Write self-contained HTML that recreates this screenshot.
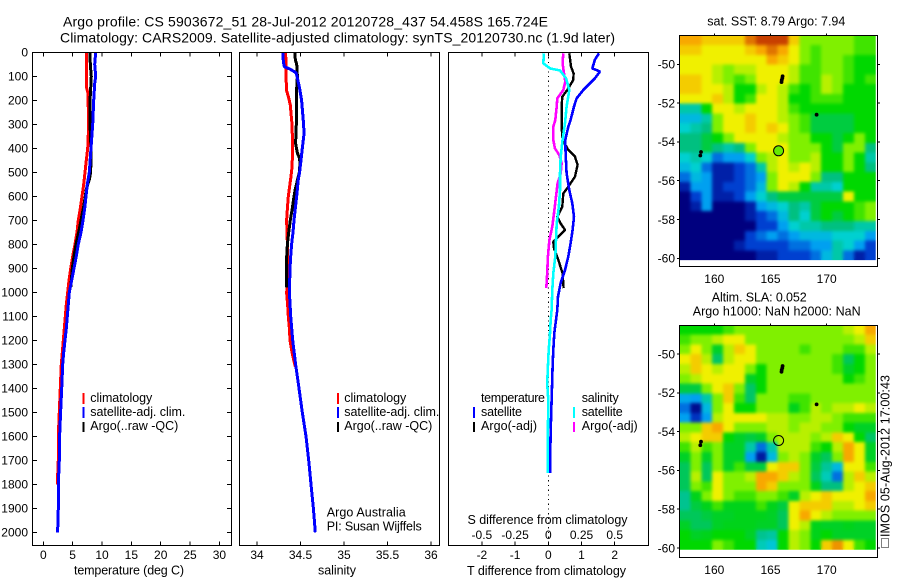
<!DOCTYPE html>
<html lang="en">
<head>
<meta charset="utf-8">
<title>Argo profile CS 5903672_51</title>
<style>
html,body{margin:0;padding:0;background:#fff;width:900px;height:580px;overflow:hidden}
svg{display:block}
text{font-family:"Liberation Sans",sans-serif;font-size:12px;fill:#000}
.title{font-size:14px}
.lab{font-size:12.5px}
</style>
</head>
<body>
<svg id="chart" xmlns="http://www.w3.org/2000/svg" width="900" height="580" viewBox="0 0 900 580">
<defs>
<filter id="smooth" filterUnits="userSpaceOnUse" x="660" y="20" width="240" height="550" color-interpolation-filters="sRGB">
<feGaussianBlur in="SourceGraphic" stdDeviation="1.7" result="b"/>
<feMerge><feMergeNode in="SourceGraphic"/><feMergeNode in="b"/></feMerge>
</filter>
</defs>
<rect width="900" height="580" fill="#fff"/>
<text class="title" x="63" y="26.5" textLength="485" lengthAdjust="spacing">Argo profile: CS 5903672_51 28-Jul-2012 20120728_437 54.458S 165.724E</text>
<text class="title" x="60" y="42.5" textLength="555" lengthAdjust="spacing">Climatology: CARS2009. Satellite-adjusted climatology: synTS_20120730.nc (1.9d later)</text>

<g id="p1"></g>
<g id="p2"></g>
<g id="p3"></g>
<g id="m1"></g>
<g id="m2"></g>

<text class="lab" x="74" y="574.5" textLength="110" lengthAdjust="spacing">temperature (deg C)</text>
<text class="lab" x="318" y="574.5" textLength="38" lengthAdjust="spacing">salinity</text>
<text class="lab" x="467" y="575" textLength="159" lengthAdjust="spacing">T difference from climatology</text>
<text class="lab" x="467.5" y="524" textLength="160" lengthAdjust="spacing">S difference from climatology</text>

<g>
<rect x="82.5" y="393" width="2" height="11" fill="#ff0000"/>
<rect x="82.5" y="407" width="2" height="11" fill="#0000ff"/>
<rect x="82.5" y="422" width="2" height="10" fill="#000"/>
<text class="lab" x="90.3" y="402" textLength="62" lengthAdjust="spacing">climatology</text>
<text class="lab" x="90.3" y="416" textLength="95" lengthAdjust="spacing">satellite-adj. clim.</text>
<text class="lab" x="90.3" y="430" textLength="88" lengthAdjust="spacing">Argo(..raw -QC)</text>
</g>
<g>
<rect x="337" y="393" width="2" height="11" fill="#ff0000"/>
<rect x="337" y="407" width="2" height="11" fill="#0000ff"/>
<rect x="337" y="422" width="2" height="10" fill="#000"/>
<text class="lab" x="344.3" y="402" textLength="62" lengthAdjust="spacing">climatology</text>
<text class="lab" x="344.3" y="416" textLength="95" lengthAdjust="spacing">satellite-adj. clim.</text>
<text class="lab" x="344.3" y="430" textLength="88" lengthAdjust="spacing">Argo(..raw -QC)</text>
</g>
<text class="lab" x="326.7" y="516.7" textLength="79" lengthAdjust="spacing">Argo Australia</text>
<text class="lab" x="326.7" y="530.7" textLength="95" lengthAdjust="spacing">PI: Susan Wijffels</text>
<g>
<text class="lab" x="481" y="402" textLength="64" lengthAdjust="spacing">temperature</text>
<text class="lab" x="481" y="416" textLength="41" lengthAdjust="spacing">satellite</text>
<text class="lab" x="481" y="430" textLength="56" lengthAdjust="spacing">Argo(-adj)</text>
<rect x="473" y="407" width="2" height="11" fill="#0000ff"/>
<rect x="473" y="422" width="2" height="10" fill="#000"/>
<text class="lab" x="581.7" y="402" textLength="37" lengthAdjust="spacing">salinity</text>
<text class="lab" x="581.7" y="416" textLength="41" lengthAdjust="spacing">satellite</text>
<text class="lab" x="581.7" y="430" textLength="56" lengthAdjust="spacing">Argo(-adj)</text>
<rect x="573" y="407" width="2" height="11" fill="#00ffff"/>
<rect x="573" y="422" width="2" height="10" fill="#ff00ff"/>
</g>

<text class="lab" x="707.3" y="25.5" textLength="138" lengthAdjust="spacing">sat. SST: 8.79 Argo: 7.94</text>
<text class="lab" x="711.7" y="301.7" textLength="95" lengthAdjust="spacing">Altim. SLA: 0.052</text>
<text class="lab" x="692.7" y="315.7" textLength="168" lengthAdjust="spacing">Argo h1000: NaN h2000: NaN</text>

<text class="lab" transform="translate(889.5,537) rotate(-90)" textLength="162" lengthAdjust="spacing">IMOS 05-Aug-2012 17:00:43</text>
<rect x="881.5" y="538.5" width="7" height="9" fill="none" stroke="#000" stroke-width="1" stroke-dasharray="1 1"/>
</svg>
<script>
// ---- temperature profiles (depth dbar, deg C) ----
const tempClimDepth = [0,100,150,170,300,400,450,500,550,600,650,700,750,800,850,900,950,1000,1050,1100,1150,1200,1250,1300,1400,1500,1600,1700,1800];
const tempClim = [7.39,7.39,7.39,7.6,7.73,7.56,7.33,7.1,6.88,6.59,6.31,5.97,5.74,5.4,5.0,4.66,4.38,4.15,3.92,3.75,3.58,3.41,3.24,3.07,2.9,2.73,2.56,2.56,2.39];
const tempSatDepth = [0,50,100,130,200,300,400,500,550,600,650,700,750,800,850,900,950,1000,1050,1100,1150,1200,1250,1300,1400,1500,1600,1700,1800,1900,2000];
const tempSat = [8.92,8.75,8.92,8.75,8.58,8.41,8.13,7.84,7.5,7.27,7.05,6.76,6.42,5.97,5.63,5.23,4.83,4.43,4.26,4.09,3.92,3.69,3.47,3.3,3.13,2.95,2.78,2.73,2.56,2.56,2.44];
const tempArgoDepth = [0,50,100,150,200,300,400,500,530,570,600,650,700,750,800,850,900,980];
const tempArgo = [7.95,8.01,8.18,8.07,7.95,7.95,8.13,8.07,7.84,7.33,7.16,6.82,6.42,6.02,5.57,5.23,4.94,4.66];
// ---- salinity profiles ----
const salClimDepth = [0,100,160,190,220,300,400,480,520,560,600,650,700,800,900,980,1000,1050,1100,1150,1200,1250,1300,1310];
const salClim = [34.33,34.333,34.34,34.364,34.383,34.402,34.41,34.402,34.39,34.375,34.36,34.349,34.34,34.349,34.349,34.349,34.34,34.352,34.36,34.372,34.379,34.402,34.433,34.44];
const salSatDepth = [0,40,60,70,85,100,150,200,300,340,400,450,500,530,600,650,700,750,800,850,900,1000,1100,1200,1300,1400,1500,1600,1700,1800,1900,2000];
const salSat = [34.295,34.303,34.314,34.379,34.448,34.46,34.49,34.513,34.536,34.54,34.521,34.506,34.49,34.475,34.456,34.44,34.425,34.414,34.398,34.387,34.379,34.372,34.387,34.41,34.444,34.483,34.521,34.563,34.594,34.621,34.648,34.67];
const salArgoDepth = [0,30,50,100,150,200,300,380,420,440,460,500,530,570,600,650,700,750,800,850,900,980];
const salArgo = [34.437,34.44,34.456,34.464,34.456,34.452,34.452,34.444,34.464,34.487,34.494,34.487,34.467,34.44,34.425,34.406,34.383,34.364,34.349,34.341,34.341,34.337];
// ---- differences ----
const dTSatDepth = [4,30,67,80,108,157,192,226,282,310,365,420,504,574,629,685,740,796,851,907,962,1018,1074,1115,1171,1240,1310,1449,1588,1752];
const dTSat = [1.526,1.406,1.325,1.556,1.406,1.054,0.853,0.773,0.673,0.602,0.512,0.522,0.552,0.633,0.723,0.773,0.733,0.673,0.602,0.502,0.371,0.291,0.271,0.231,0.181,0.151,0.131,0.1,0.07,0.05];
const dTArgoDepth = [4,60,88,115,157,185,226,310,365,407,435,469,518,560,588,643,685,713,740,768,789,817,865,921,983];
const dTArgo = [0.633,0.683,0.763,0.753,0.572,0.422,0.402,0.402,0.432,0.602,0.803,0.884,0.803,0.602,0.452,0.422,0.271,0.371,0.502,0.301,0.151,0.171,0.301,0.432,0.462];
const dSSatDepth = [4,46,67,76,108,157,226,296,365,435,504,574,643,713,782,851,921,990,1074,1115,1171,1240,1310,1379,1449,1588,1752];
const dSSat = [-0.033,-0.038,0.013,0.088,0.133,0.158,0.138,0.126,0.108,0.093,0.088,0.088,0.08,0.063,0.058,0.053,0.038,0.03,0.025,0.018,0.013,0.003,-0.003,-0.008,0,-0.003,-0.005];
const dSArgoDepth = [4,46,88,122,157,192,226,282,310,365,400,428,462,504,546,601,671,726,782,851,921,983];
const dSArgo = [0.113,0.108,0.118,0.128,0.113,0.068,0.063,0.053,0.038,0.038,0.05,0.083,0.1,0.093,0.07,0.058,0.043,0.03,0.008,-0.003,-0.008,-0.015];
// ---- axis ticks ----
const depthTicks = [0,100,200,300,400,500,600,700,800,900,1000,1100,1200,1300,1400,1500,1600,1700,1800,1900,2000];
const tempTicks = [0,5,10,15,20,25,30];
const salTicks = [34,34.5,35,35.5,36];
const salTickLabels = ['34','34.5','35','35.5','36'];
const dTTicks = [-2,-1,0,1,2];
const dSTicks = [-0.5,-0.25,0,0.25,0.5];
const dSTickLabels = ['-0.5','-0.25','0','0.25','0.5'];
const lonTicks = [160,165,170];
const latTicks = [-50,-52,-54,-56,-58,-60];
// ---- map markers (lon, lat) ----
const trackLons = [166.08,166.05,166.0,165.98,169.1,158.82,158.75];
const trackLats = [-50.62,-50.72,-50.82,-50.92,-52.6,-54.52,-54.7];
const profileLon = [165.72];
const profileLat = [-54.46];
// ---- SST map (colour level 0 navy .. 9 brown) rows north to south, 18 columns ----
const sstRow00=[8,8,7.5,7.5,7.5,7.5,8.5,9,9,9,7.5,6,6,6,6,6,5.5,5.5];
const sstRow01=[7.5,7.5,7,7,7,7,7.5,8,8.5,8,7,6,5.5,6,6,6,5.5,5.5];
const sstRow02=[7,7,7,7,7,7,7,7,8,7.5,7,6,5.5,6,6,5.5,5,5];
const sstRow03=[7,7,7,6.5,6,6.5,6.5,7,7,7,6.5,5.5,5.5,6,6,5.5,5,5];
const sstRow04=[7.5,7.5,7,6.5,6,5.5,6,7,7,7,6.5,5.5,5.5,6.5,6,5.5,5,5.5];
const sstRow05=[7.5,7.5,7,7,6.5,5,5,6.5,7,6.5,5.5,5,5.5,6.5,6,5,5,5];
const sstRow06=[7,7,7,7.5,6.5,5,5.5,7,7,6.5,5,5,5.5,5.5,5.5,5,5,5];
const sstRow07=[3.5,3.5,5,7,7,6.5,7,7,7,6.5,5.5,5,5,5,5,5,5,5];
const sstRow08=[2.5,2.5,3.5,6,7,7,7.5,7,7,6.5,6,5.5,4.5,4.5,4.5,4.5,5,5];
const sstRow09=[3,3.5,4,6,7,7,7.5,7,7.5,7,6,5.5,4.5,4.5,4.5,4.5,5,5];
const sstRow10=[4,4,4.5,5,6,7,7,7,7,6.5,6,6,5,5,4.5,5,6,5];
const sstRow11=[4,4,4.5,4,3.5,4,6,7,7,7,6,6,6,5,4.5,6,6,4];
const sstRow12=[3,3.5,3,1.5,2,2,3,6,6.5,7,6,6,6.5,5,5,6,5,3.5];
const sstRow13=[2.5,3,1.5,0.5,0.5,1,1.5,3.5,6.5,7,6.5,7,6.5,5,5,6,5,4];
const sstRow14=[1.5,2.5,2,0.5,0.5,1,1.5,2,6,7,7,7,6,4,4,5,5,5];
const sstRow15=[0.5,2,2,0.5,1,1,1.5,2.5,6,7,6.5,5,3.5,3.5,3,5,5,5];
const sstRow16=[0,1,2,0.5,0.5,1,2,3,4,4.5,4.5,4.5,4.5,4.5,4.5,7,5,5];
const sstRow17=[0,0.5,2,0,0,0,0.5,2,2.5,3,4,3.5,4.5,5,5,5,5.5,6];
const sstRow18=[0,0,0,0,0,0,0.5,1,1.5,2.5,4,3,4.5,5,4.5,5,5.5,6];
const sstRow19=[0,0,0,0,0,0,0,1,1,2,3,3.5,3.5,4,4,4,3.5,3.5];
const sstRow20=[0,0,0,0,0,0,1,1.5,2,1.5,2,2.5,2.5,2.5,3,3,3,2];
const sstRow21=[0,0,0,0,0,0.5,1,1,1,1,1.5,1.5,2,2,3.5,3,2,1];
const sstRow22=[0,0,0,0,0,0,0,0.5,0.5,1,1,1,1.5,2.5,3.5,1.5,0.5,1];
const sstGrid=[sstRow00,sstRow01,sstRow02,sstRow03,sstRow04,sstRow05,sstRow06,sstRow07,sstRow08,sstRow09,sstRow10,sstRow11,sstRow12,sstRow13,sstRow14,sstRow15,sstRow16,sstRow17,sstRow18,sstRow19,sstRow20,sstRow21,sstRow22];
// ---- SLA map ----
const slaRow00=[5,5,5,5,5.5,6,6,6,6,6,6,6,6,6,6,6.5,7,8];
const slaRow01=[5.5,6,6,6.5,7,7,6,6,6,6,6,6,6,6,6,6,6.5,7.5];
const slaRow02=[6,7,6,4.7,6.5,7.5,7,6,6,6,6,5.5,6,6,6,5.5,5.5,6.5];
const slaRow03=[7,7.5,6.5,4.2,6.5,7,7,6,6,6,6,6,6,6,5.5,4.3,5,6];
const slaRow04=[6.5,7.5,7,6.5,7,7,6,5,6,6,6,6,6,6,5.5,4.7,5,6];
const slaRow05=[6,6.5,7,7,7,7,4.7,5,6,6,6,6,6,6,6,5,5.5,6];
const slaRow06=[4.5,4.5,6,7,7.5,6,4.2,5,6,6,6,6,6,6,6,6,6,6];
const slaRow07=[2.2,2,3.5,6,7.5,5.5,4.2,6,6,6,5.5,5.5,6,6,6,6,6,6];
const slaRow08=[1.5,0.2,2.5,6,7,5,5,6,6,6,4.8,5.5,6.5,6,6.5,6.5,7,6.5];
const slaRow09=[2,0.8,2,6.5,7,7,7,7,6.5,6.5,6,6,6.5,6.5,6,5.5,5.5,5.5];
const slaRow10=[6,6,7.5,8,7,6,6,6,6.5,6.5,6,6.5,6.5,6,6,5,4.7,4.7];
const slaRow11=[6.5,7,7.5,7.5,5,4.7,4.5,4.7,6,6.5,6.5,6.5,6,6.5,7.5,7,5,4.2];
const slaRow12=[5.5,6.5,5.5,6,4.7,4.7,3.5,1.5,3.5,6.5,6.5,6.5,5.5,5,6.5,8,7,4.7];
const slaRow13=[4.7,6,4.7,6,4.7,4.7,2,0.4,2.5,6,6.5,6,4.7,4.3,6,8,7,4.7];
const slaRow14=[4.3,6,4.3,6,4.7,5.5,4.5,4.5,7,7.5,7.5,6,4.5,3.7,2.5,7,7,5.5];
const slaRow15=[4.3,6.5,4.3,7,6,6,6.5,8,8,7.5,6.5,6,4.3,3.3,1.5,6.5,7.5,6.5];
const slaRow16=[4.3,6,5.5,7,6,6,6,8,7.5,6,6,6,4.8,4,4,6.5,7,7.5];
const slaRow17=[3.8,4.8,6,7,6,5.5,5.5,6,6,5.5,4.7,6.5,7,7.5,7,7,7,8];
const slaRow18=[3.8,4.5,4.8,5.5,4.8,4.8,4.8,5.5,4.8,4.5,7,7.5,7.5,7.5,6.5,6.5,7,7.5];
const slaRow19=[4.3,4.3,4.5,4.7,4.7,4.8,4.8,4.8,4.7,4.3,7,8,7,6.5,6,6,6,6];
const slaRow20=[4.7,4.3,4.3,4.7,4.8,4.8,4.8,4.7,4.7,4.3,7,6.5,4.8,4.7,4.7,4.8,4.7,4.7];
const slaRow21=[5,4.7,4.8,5,5,5,4.7,3.8,3.6,5,6.5,6,4.8,5,4.7,4.7,4.7,4.7];
const slaRow22=[5,5,5,6,5.5,5,5,3.3,2.8,5,6.5,6,5,7.5,8.2,7,5.5,5];
const slaGrid=[slaRow00,slaRow01,slaRow02,slaRow03,slaRow04,slaRow05,slaRow06,slaRow07,slaRow08,slaRow09,slaRow10,slaRow11,slaRow12,slaRow13,slaRow14,slaRow15,slaRow16,slaRow17,slaRow18,slaRow19,slaRow20,slaRow21,slaRow22];

const NS='http://www.w3.org/2000/svg';
function mk(tag,attrs,parent,txt){
  const e=document.createElementNS(NS,tag);
  for(const k in attrs)e.setAttribute(k,attrs[k]);
  if(txt!==undefined)e.textContent=txt;
  parent.appendChild(e);
  return e;
}
const depthY=d=>52.3+0.24*d;
const tempX=v=>43.3+5.87*v;
const salX=v=>257+87*(v-34);
const dTX=v=>548.3+33.2*v;
const dSX=v=>548.3+132.8*v;
const mapX=lon=>714.3+(lon-160)*11.24;

function frame(g,x0,y0,x1,y1){
  const r=mk('rect',{x:x0,y:y0,width:x1-x0,height:y1-y0,fill:'none',stroke:'#000','stroke-width':1,'shape-rendering':'crispEdges'},g);
  
  
}
function tick(g,x1,y1,x2,y2){
  const l=mk('line',{x1:x1,y1:y1,x2:x2,y2:y2,stroke:'#000','stroke-width':1,'shape-rendering':'crispEdges'},g);
  
  
}
function label(g,x,y,anchor,s){
  const t=mk('text',{x:x,y:y,'text-anchor':anchor},g,s);
  
  
}
function series(g,name,color,depths,vals,xf,w){
  const pts=vals.map((v,i)=>xf(v).toFixed(1)+','+depthY(depths[i]).toFixed(1)).join(' ');
  const p=mk('polyline',{points:pts,fill:'none',stroke:color,'stroke-width':w,'stroke-linejoin':'bevel','shape-rendering':'crispEdges'},g);
  
  
}
const p1=document.getElementById('p1'),p2=document.getElementById('p2'),p3=document.getElementById('p3');
const T=52.5,B=545.5;

// temperature panel
series(p1,'temperature-climatology-line','#ff0000',tempClimDepth,tempClim,tempX,3);
series(p1,'temperature-argo-line','#000000',tempArgoDepth,tempArgo,tempX,3);
series(p1,'temperature-satellite-line','#0000ff',tempSatDepth,tempSat,tempX,3);
frame(p1,32.5,T,231.5,B);
depthTicks.forEach(d=>{const y=depthY(d);tick(p1,32.5,y,37,y);tick(p1,227,y,231.5,y);label(p1,28,y+4.3,'end',String(d));});
tempTicks.forEach(v=>{const x=tempX(v);tick(p1,x,T,x,T+4);tick(p1,x,B,x,B-4);label(p1,x,559,'middle',String(v));});

// salinity panel
series(p2,'salinity-climatology-line','#ff0000',salClimDepth,salClim,salX,3);
series(p2,'salinity-argo-line','#000000',salArgoDepth,salArgo,salX,3);
series(p2,'salinity-satellite-line','#0000ff',salSatDepth,salSat,salX,3);
frame(p2,239.5,T,439.5,B);
salTicks.forEach((v,i)=>{const x=salX(v);tick(p2,x,T,x,T+4);tick(p2,x,B,x,B-4);label(p2,x,559,'middle',salTickLabels[i]);});

// difference panel
const zero=mk('line',{x1:dTX(0),y1:T,x2:dTX(0),y2:B,stroke:'#000','stroke-width':1,'stroke-dasharray':'1.2 3.5','shape-rendering':'crispEdges'},p3);


series(p3,'t-diff-argo-line','#000000',dTArgoDepth,dTArgo,dTX,2.4);
series(p3,'t-diff-satellite-line','#0000ff',dTSatDepth,dTSat,dTX,2.6);
series(p3,'s-diff-argo-line','#ff00ff',dSArgoDepth,dSArgo,dSX,2.6);
series(p3,'s-diff-satellite-line','#00ffff',dSSatDepth,dSSat,dSX,2.6);
frame(p3,448.5,T,648.5,B);
dTTicks.forEach(v=>{const x=dTX(v);tick(p3,x,T,x,T+4);tick(p3,x,B,x,B-4);label(p3,x,559,'middle',String(v));});
dSTicks.forEach((v,i)=>{label(p3,dSX(v),539,'middle',dSTickLabels[i]);});

// colour scale
const levelColors=[[0,0,127],[0,64,208],[0,160,240],[0,208,208],[0,192,128],[0,216,0],[128,240,0],[240,240,0],[248,168,0],[200,64,0]];
function levelColor(v){
  const c=Math.max(0,Math.min(9,v));
  const i=Math.min(8,Math.floor(c));
  const f=c-i;
  const a=levelColors[i],b=levelColors[i+1];
  return 'rgb('+a.map((q,k)=>Math.round(q+(b[k]-q)*f)).join(',')+')';
}
const LON0=156.9,LON_STEP=0.97,LAT0=-48.5,LAT_STEP=0.504;
function drawMap(g,grid,yRef,frameTop,frameBottom,name,argoLevel){
  const mapY=lat=>yRef+(-50-lat)*19.4;
  const endY=mapY(LAT0-grid.length*LAT_STEP);
  const defs=mk('clipPath',{id:'clip-'+name},g);
  mk('rect',{x:mapX(LON0),y:frameTop,width:mapX(LON0+grid[0].length*LON_STEP)-mapX(LON0),height:endY-frameTop},defs);
  const clipG=mk('g',{'clip-path':'url(#clip-'+name+')'},g);
  const cells=mk('g',{filter:'url(#smooth)'},clipG);
  
  
  grid.forEach((row,r)=>{row.forEach((v,c)=>{
    const x0=mapX(LON0+c*LON_STEP),x1=mapX(LON0+(c+1)*LON_STEP);
    const y0=mapY(LAT0-r*LAT_STEP),y1=mapY(LAT0-(r+1)*LAT_STEP);
    const cell=mk('rect',{x:x0.toFixed(1),y:y0.toFixed(1),width:(x1-x0+0.4).toFixed(1),height:(y1-y0+0.4).toFixed(1),fill:levelColor(v),'shape-rendering':'crispEdges'},cells);
    
    
  });});
  frame(g,679.5,frameTop,877.5,frameBottom);
  lonTicks.forEach(lon=>{const x=mapX(lon);tick(g,x,frameTop-2,x,frameTop);label(g,x,frameBottom+16.5,'middle',String(lon));});
  latTicks.forEach(lat=>{const y=mapY(lat);tick(g,677,y,679.5,y);tick(g,877.5,y,880,y);label(g,675,y+4.3,'end',String(lat));});
  trackLons.forEach((lon,i)=>{
    const m=mk('ellipse',{cx:mapX(lon).toFixed(1),cy:mapY(trackLats[i]).toFixed(1),rx:1.9,ry:1.9,fill:'#000'},g);
    
    
  });
  profileLon.forEach((lon,i)=>{
    const c=mk('circle',{cx:mapX(lon).toFixed(1),cy:mapY(profileLat[i]).toFixed(1),r:5,fill:argoLevel===null?'none':levelColor(argoLevel),stroke:'#000','stroke-width':1},g);
    
    
  });
}
const sstArgoLevel=5.8;
drawMap(document.getElementById('m1'),sstGrid,64.3,35.5,266.5,'sst',sstArgoLevel);
drawMap(document.getElementById('m2'),slaGrid,354,325.5,557.5,'sla',null);
</script>
</body>
</html>
